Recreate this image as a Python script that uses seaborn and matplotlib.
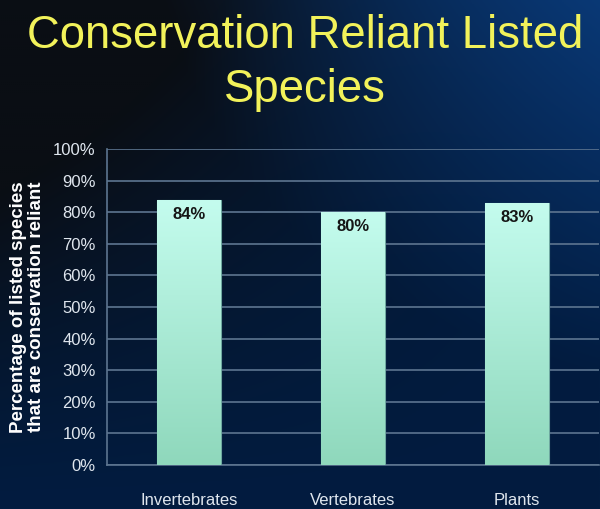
import numpy as np
import pandas as pd
import seaborn as sns
import matplotlib.pyplot as plt
from matplotlib.colors import LinearSegmentedColormap, to_rgb

# datos del grafico
categorias = ["Invertebrates", "Vertebrates", "Plants"]
porcentajes = [84, 80, 83]
etiquetas = ["84%", "80%", "83%"]
ticks_y = list(range(0, 101, 10))

df = pd.DataFrame({"grupo": categorias, "valor": porcentajes})

sns.set_style("white")
plt.rcParams["font.family"] = ["Liberation Sans", "DejaVu Sans"]

fig = plt.figure(figsize=(6, 5.09), dpi=100)

# fondo: azul marino, casi negro arriba a la izquierda, mas claro arriba a la derecha
fondo = fig.add_axes([0, 0, 1, 1], zorder=-10)
xx, yy = np.meshgrid(np.linspace(0, 1, 300), np.linspace(0, 1, 255))
base = np.array(to_rgb("#021c40"))
negro = np.array(to_rgb("#0a0e14"))
claro = np.array(to_rgb("#0a3a78"))
a = np.clip((1 - xx) * yy * 1.6, 0, 1)[..., None] ** 1.3
b = np.clip(xx * yy * 1.3 - 0.35, 0, 1)[..., None]
img = base * (1 - a) + negro * a
img = img * (1 - b) + claro * b
fondo.imshow(img, aspect="auto", origin="lower", extent=[0, 1, 0, 1])
fondo.axis("off")

ax = fig.add_axes([0.178, 0.0864, 0.82, 0.6209])
ax.set_facecolor("none")

sns.barplot(data=df, x="grupo", y="valor", color="#b0f0dc", width=0.39,
            saturation=1, ax=ax, zorder=3)

# degradado de las barras
cmap_barra = LinearSegmentedColormap.from_list("barra", ["#8fd8bc", "#c4fcee"])
grad = np.linspace(0, 1, 100).reshape(-1, 1)
for p in ax.patches:
    x0, y0 = p.get_x(), p.get_y()
    w, h = p.get_width(), p.get_height()
    im = ax.imshow(grad, cmap=cmap_barra, aspect="auto", origin="lower",
                   extent=[x0, x0 + w, y0, y0 + h], zorder=4)
    im.set_clip_path(p)
    p.set_edgecolor("#6fa8a0")
    p.set_linewidth(0.8)

for i, (v, txt) in enumerate(zip(porcentajes, etiquetas)):
    ax.text(i, v - 4.6, txt, ha="center", va="center", fontsize=12,
            color="#151515", fontweight="semibold", zorder=5)

ax.set_xlim(-0.5, 2.5)
ax.set_ylim(0, 100)
ax.set_yticks(ticks_y)
ax.set_yticklabels([f"{v}%" for v in ticks_y], color="#dfe6ee", fontsize=12)
ax.set_xticks(range(len(categorias)))
ax.set_xticklabels(categorias, color="#dfe6ee", fontsize=12)
ax.tick_params(axis="both", length=0, pad=8)
ax.tick_params(axis="x", pad=20)
ax.yaxis.grid(True, color="#5d7590", linewidth=1.2, zorder=1)
ax.set_axisbelow(True)
for lado in ["top", "right"]:
    ax.spines[lado].set_visible(False)
for lado in ["left", "bottom"]:
    ax.spines[lado].set_color("#5d7590")
    ax.spines[lado].set_linewidth(1.2)

ax.set_xlabel("")
ax.set_ylabel("Percentage of listed species\nthat are conservation reliant",
              color="white", fontsize=13.5, fontweight="bold", labelpad=6,
              linespacing=1.05)

fig.text(0.508, 0.929, "Conservation Reliant Listed", ha="center", va="center",
         color="#f2f25a", fontsize=32.8)
fig.text(0.508, 0.824, "Species", ha="center", va="center",
         color="#f2f25a", fontsize=32.8)

fig.savefig("out.png", dpi=100)
